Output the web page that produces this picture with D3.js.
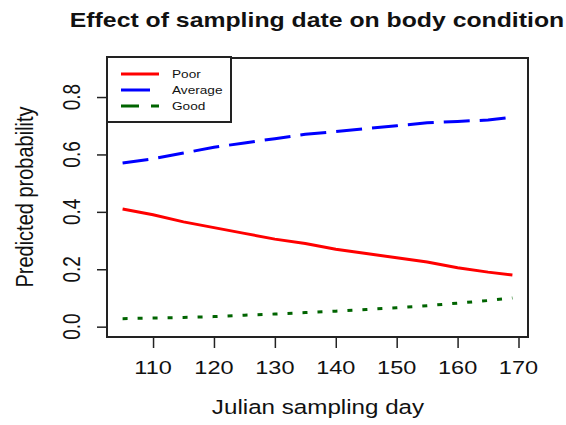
<!DOCTYPE html>
<html>
<head>
<meta charset="utf-8">
<script src="https://cdn.jsdelivr.net/npm/d3@7"></script>
<style>
  body { margin: 0; background: #fff; }
  text { font-family: Arial, "Liberation Sans", sans-serif; fill: #111; }
</style>
</head>
<body>
<div id="chart"></div>
<script>
// values
const days = [105, 110, 115, 120, 125, 130, 135, 140, 145, 150, 155, 160, 165, 169];
const poor = [0.41, 0.39, 0.365, 0.345, 0.325, 0.305, 0.29, 0.27, 0.255, 0.24, 0.225, 0.205, 0.19, 0.18];
const average = [0.57, 0.585, 0.605, 0.625, 0.64, 0.655, 0.67, 0.68, 0.69, 0.70, 0.71, 0.715, 0.72, 0.73];
const good = [0.028, 0.03, 0.032, 0.035, 0.04, 0.044, 0.049, 0.054, 0.06, 0.066, 0.073, 0.082, 0.091, 0.10];
const xTicks = [110, 120, 130, 140, 150, 160, 170];
const yTicks = [0, 0.2, 0.4, 0.6, 0.8];
const seriesNames = ["Poor", "Average", "Good"];

const width = 566, height = 425;
const SX = 1.24; // the original is stretched sideways

const svg = d3.select("#chart").append("svg")
    .attr("width", width)
    .attr("height", height);

const x = d3.scaleLinear().domain([102.44, 171.56]).range([107, 528]);
const y = d3.scaleLinear().domain([-0.036, 0.936]).range([337, 58]);

const series = [
  {name: seriesNames[0], values: poor, color: "#ff0000", dash: null},
  {name: seriesNames[1], values: average, color: "#0000ff", dash: "26 10"},
  {name: seriesNames[2], values: good, color: "#006400", dash: "5 10"}
];

// stretched text helper
function label(sel, txt, px, py, size, opts = {}) {
  const g = sel.append("g")
      .attr("transform", `translate(${px},${py}) scale(${SX},1)` + (opts.rotate ? " rotate(-90)" : ""));
  return g.append("text")
      .attr("text-anchor", opts.anchor || "middle")
      .style("font-size", size + "px")
      .style("font-weight", opts.bold ? "bold" : null)
      .text(txt);
}

// lines
const line = d3.line()
    .x((d, i) => x(days[i]))
    .y(d => y(d));

svg.append("g").selectAll("path")
  .data(series)
  .join("path")
    .attr("d", d => line(d.values))
    .attr("fill", "none")
    .attr("stroke", d => d.color)
    .attr("stroke-width", 3)
    .attr("stroke-dasharray", d => d.dash);

// axes (ticks only, box covers the domain line)
const xAxis = svg.append("g")
    .attr("transform", `translate(0,${y.range()[0]})`)
    .call(d3.axisBottom(x).tickValues(xTicks).tickSize(11).tickSizeOuter(0).tickFormat(""));
xAxis.select(".domain").remove();
xAxis.selectAll("line").attr("stroke", "#222").attr("stroke-width", 1.5);

const yAxis = svg.append("g")
    .attr("transform", `translate(${x.range()[0]},0)`)
    .call(d3.axisLeft(y).tickValues(yTicks).tickSize(10).tickSizeOuter(0).tickFormat(""));
yAxis.select(".domain").remove();
yAxis.selectAll("line").attr("stroke", "#222").attr("stroke-width", 1.5);

xTicks.forEach(t => label(svg, String(t), x(t), 374, 19));
yTicks.forEach(t => label(svg, d3.format(".1f")(t), 80, y(t), 19, {rotate: true}));

// plot box
svg.append("rect")
    .attr("x", x.range()[0]).attr("y", y.range()[1])
    .attr("width", x.range()[1] - x.range()[0])
    .attr("height", y.range()[0] - y.range()[1])
    .attr("fill", "none")
    .attr("stroke", "#222")
    .attr("stroke-width", 2);

// titles
label(svg, "Effect of sampling date on body condition", 317, 27, 20, {bold: true});
label(svg, "Julian sampling day", 318, 414, 19.5);
label(svg, "Predicted probability", 33, 197, 20, {rotate: true});

// legend
const legend = svg.append("g");
legend.append("rect")
    .attr("x", 107).attr("y", 57)
    .attr("width", 124).attr("height", 65)
    .attr("fill", "#fff")
    .attr("stroke", "#222")
    .attr("stroke-width", 2);
const legendDash = [null, "29 10", "18 12"];
series.forEach((s, i) => {
  const ly = 74 + i * 16;
  legend.append("line")
      .attr("x1", 121).attr("x2", 159)
      .attr("y1", ly).attr("y2", ly)
      .attr("stroke", s.color)
      .attr("stroke-width", 3)
      .attr("stroke-dasharray", legendDash[i]);
  label(legend, s.name, 172, ly + 4, 11, {anchor: "start"});
});
</script>
</body>
</html>
